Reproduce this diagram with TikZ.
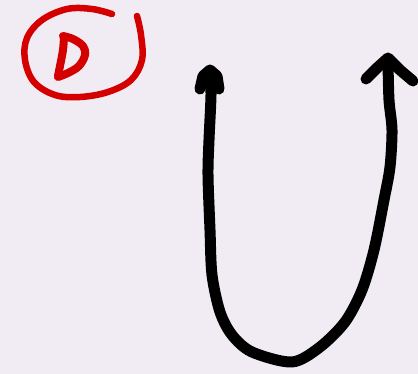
\documentclass[tikz,border=0pt]{standalone}
\definecolor{bgcol}{RGB}{241,236,244}
\definecolor{redink}{RGB}{212,0,0}
\tikzset{
  inkred/.style={draw=redink,line width=6.5pt,line cap=round,line join=round},
  inkredthick/.style={draw=redink,line width=8pt,line cap=round,line join=round},
  inkblack/.style={draw=black,line width=11pt,line cap=round,line join=round}
}
\begin{document}
\begin{tikzpicture}[x=1pt,y=-1pt]
\fill[bgcol] (0,0) rectangle (418,374);
\useasboundingbox (0,0) rectangle (418,374);
% red circle
\draw[inkred] plot[smooth,tension=0.6] coordinates {(112,14) (92,9) (67,9) (42,20) (27,38) (25,60) (34,82) (55,95) (80,97) (108,92) (131,80) (142,60) (141,35) (137,16)};
% letter D
\draw[inkredthick] plot[smooth,tension=0.5] coordinates {(64,37) (63,50) (60,66) (58,76)};
\draw[inkredthick] plot[smooth,tension=0.6] coordinates {(63,36) (73,39) (83,46) (85,55) (79,66) (68,73) (58,77)};
% U-shaped arrow
\draw[inkblack] plot[smooth,tension=0.5] coordinates {(210,72) (211,95) (209,140) (208,175) (210,230) (212,275) (220,312) (232,335) (252,352) (292,362) (320,347) (345,322) (362,290) (374,250) (384,200) (390,167) (392,130) (389,100) (388,62)};
% left arrowhead
\draw[inkblack] (200,89) -- (203,76) -- (210,70) -- (217,76) -- (219,89);
% right arrowhead
\draw[inkblack] (366,79) -- (378,67) -- (388,58) -- (400,70) -- (413,81);
\end{tikzpicture}
\end{document}
